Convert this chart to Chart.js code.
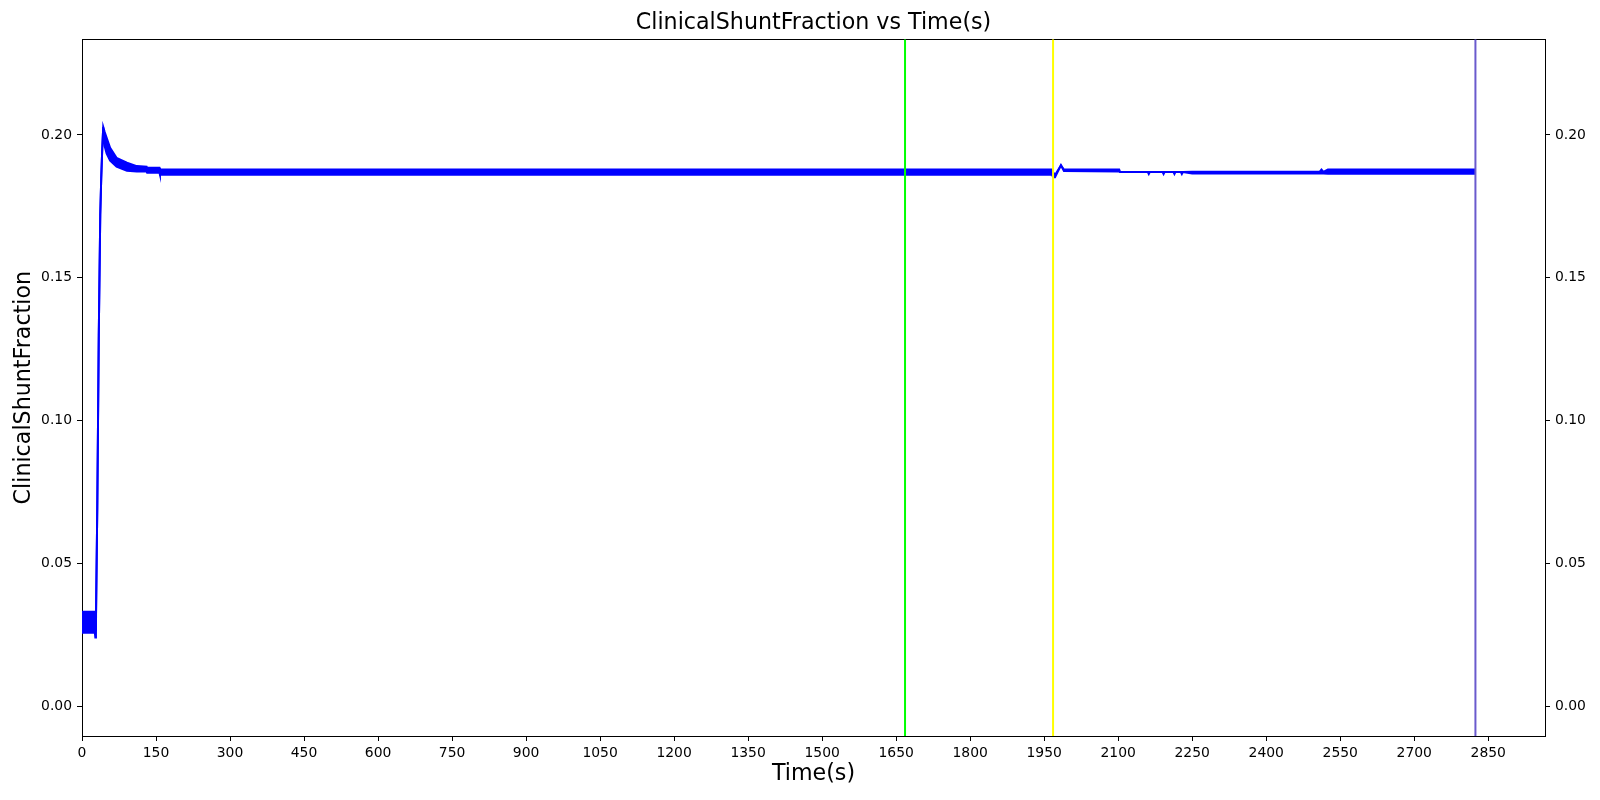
<!DOCTYPE html>
<html>
<head>
<meta charset="utf-8">
<title>ClinicalShuntFraction vs Time(s)</title>
<script src="https://cdn.jsdelivr.net/npm/chart.js@4.4.1/dist/chart.umd.min.js"></script>
<style>
    html, body { margin: 0; padding: 0; background: #ffffff; }
    #wrap { width: 1600px; height: 800px; }
</style>
</head>
<body>
<div id="wrap"><canvas id="chart" width="1600" height="800"></canvas></div>
<script>
// Thời gian (s) tại các điểm đọc được trên hình
const times = [
    0, 26, 27, 28.3, 28.5, 31, 34, 37, 39, 41, 43, 46, 50, 57, 70, 91, 111, 131, 132,
    157, 158, 1966, 1968, 1972, 1984, 1990, 2102, 2104,
    2160, 2162, 2164, 2190, 2192, 2194, 2212, 2214, 2216, 2227, 2229, 2231,
    2250, 2508, 2512, 2516, 2525, 2824
];
// Biên trên của dải dao động
const upperVals = [
    0.0330, 0.0330, 0.0330, 0.0330, 0.0330, 0.0700, 0.1300, 0.1720, 0.1850, 0.1950, 0.2028, 0.2010, 0.1990, 0.1955, 0.1920, 0.1903, 0.1891, 0.1889, 0.1885,
    0.1885, 0.1879, 0.1879, 0.1870, 0.1860, 0.1894, 0.1879, 0.1879, 0.1870,
    0.1870, 0.1870, 0.1870, 0.1870, 0.1870, 0.1870, 0.1870, 0.1870, 0.1870, 0.1870, 0.1870, 0.1870,
    0.1871, 0.1871, 0.1879, 0.1871, 0.1879, 0.1879
];
// Biên dưới của dải dao động
const lowerVals = [
    0.0257, 0.0257, 0.0240, 0.0250, 0.0330, 0.0700, 0.1300, 0.1720, 0.1850, 0.1950, 0.2028, 0.1960, 0.1935, 0.1910, 0.1889, 0.1875, 0.1872, 0.1872, 0.1868,
    0.1868, 0.1861, 0.1861, 0.1852, 0.1852, 0.1894, 0.1874, 0.1872, 0.1870,
    0.1870, 0.1863, 0.1870, 0.1870, 0.1863, 0.1870, 0.1870, 0.1863, 0.1870, 0.1870, 0.1863, 0.1870,
    0.1865, 0.1865, 0.1865, 0.1865, 0.1864, 0.1864
];

// Các đường dọc đánh dấu sự kiện
const markerTimes = [1668, 1968, 2824];
const markerColors = ["#00ff00", "#ffff00", "#6a5acd"];

// Nhãn trục
const xTicks = [0, 150, 300, 450, 600, 750, 900, 1050, 1200, 1350, 1500, 1650, 1800, 1950, 2100, 2250, 2400, 2550, 2700, 2850];
const yTicks = [0, 0.05, 0.10, 0.15, 0.20];
const xMin = 0, xMax = 2965;
const yMin = -0.0105, yMax = 0.2335;

const FONT = "'DejaVu Sans', 'Liberation Sans', sans-serif";

document.addEventListener("DOMContentLoaded", () => {
    const ctx = document.getElementById("chart");

    const upperData = times.map((t, i) => ({ x: t, y: upperVals[i] }));
    const lowerData = times.map((t, i) => ({ x: t, y: lowerVals[i] }));

    const datasets = [
        {
            label: "upper",
            data: upperData,
            borderColor: "#0000ff",
            borderWidth: 2,
            pointRadius: 0,
            tension: 0,
            fill: false,
            order: 5
        },
        {
            label: "lower",
            data: lowerData,
            borderColor: "#0000ff",
            backgroundColor: "#0000ff",
            borderWidth: 2,
            pointRadius: 0,
            tension: 0,
            fill: "-1",
            order: 4
        }
    ];

    // Mỗi đường dọc chạy từ đáy tới đỉnh trục y
    markerTimes.forEach((t, i) => {
        datasets.push({
            label: "marker" + i,
            data: [{ x: t, y: yMin }, { x: t, y: yMax }],
            borderColor: markerColors[i],
            borderWidth: 2,
            pointRadius: 0,
            fill: false,
            order: 0
        });
    });

    const tickFont = { family: FONT, size: 13.9 };

    new Chart(ctx, {
        type: "line",
        data: { datasets: datasets },
        options: {
            responsive: false,
            animation: false,
            devicePixelRatio: 1,
            layout: { padding: 0 },
            plugins: {
                legend: { display: false },
                tooltip: { enabled: false },
                title: {
                    display: true,
                    text: "ClinicalShuntFraction vs Time(s)",
                    color: "#000000",
                    fullSize: false,
                    font: { family: FONT, size: 22.2, weight: "normal", lineHeight: 1.2 },
                    padding: { top: 10.2, bottom: 2.5 }
                }
            },
            scales: {
                x: {
                    type: "linear",
                    position: "bottom",
                    min: xMin,
                    max: xMax,
                    afterBuildTicks: (axis) => { axis.ticks = xTicks.map(v => ({ value: v })); },
                    afterFit: (axis) => { axis.height = 64; },
                    ticks: {
                        color: "#000000",
                        font: tickFont,
                        padding: 4,
                        maxRotation: 0,
                        autoSkip: false,
                        callback: (v) => String(v)
                    },
                    grid: {
                        display: true,
                        drawOnChartArea: false,
                        drawTicks: true,
                        tickLength: 5,
                        color: "#000000",
                        lineWidth: 1
                    },
                    border: { display: true, color: "#000000", width: 1 },
                    title: {
                        display: true,
                        text: "Time(s)",
                        color: "#000000",
                        font: { family: FONT, size: 22.2, lineHeight: 1.2 },
                        padding: { top: 0, bottom: 12.8 }
                    }
                },
                xTop: {
                    type: "linear",
                    position: "top",
                    min: xMin,
                    max: xMax,
                    afterFit: (axis) => { axis.height = 0; },
                    ticks: { display: false },
                    grid: { display: false },
                    border: { display: true, color: "#000000", width: 1 }
                },
                y: {
                    type: "linear",
                    position: "left",
                    min: yMin,
                    max: yMax,
                    afterBuildTicks: (axis) => { axis.ticks = yTicks.map(v => ({ value: v })); },
                    afterFit: (axis) => { axis.width = 82; },
                    ticks: {
                        color: "#000000",
                        font: tickFont,
                        padding: 5,
                        callback: (v) => Number(v).toFixed(2)
                    },
                    grid: {
                        display: true,
                        drawOnChartArea: false,
                        drawTicks: true,
                        tickLength: 5,
                        color: "#000000",
                        lineWidth: 1
                    },
                    border: { display: true, color: "#000000", width: 1 },
                    title: {
                        display: true,
                        text: "ClinicalShuntFraction",
                        color: "#000000",
                        font: { family: FONT, size: 22.2, lineHeight: 1.2 },
                        padding: { top: 11.3, bottom: 0 }
                    }
                },
                yRight: {
                    type: "linear",
                    position: "right",
                    min: yMin,
                    max: yMax,
                    afterBuildTicks: (axis) => { axis.ticks = yTicks.map(v => ({ value: v })); },
                    afterFit: (axis) => { axis.width = 55; },
                    ticks: {
                        color: "#000000",
                        font: tickFont,
                        padding: 5,
                        callback: (v) => Number(v).toFixed(2)
                    },
                    grid: {
                        display: true,
                        drawOnChartArea: false,
                        drawTicks: true,
                        tickLength: 5,
                        color: "#000000",
                        lineWidth: 1
                    },
                    border: { display: true, color: "#000000", width: 1 }
                }
            }
        }
    });
});
</script>
</body>
</html>
